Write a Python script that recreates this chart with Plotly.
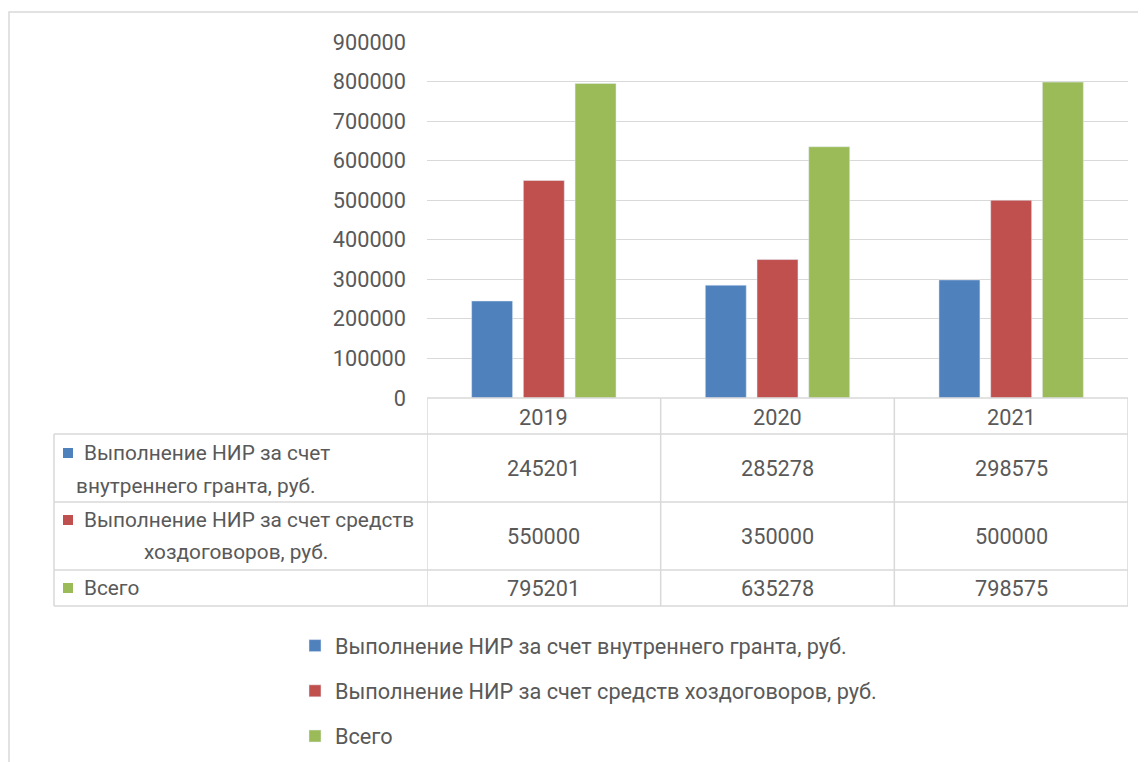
import plotly.graph_objects as go

# ---------------- data ----------------
years = ["2019", "2020", "2021"]
series_names = [
    "Выполнение НИР за счет внутреннего гранта, руб.",
    "Выполнение НИР за счет средств хоздоговоров, руб.",
    "Всего",
]
grant_values = [245201, 285278, 298575]
contract_values = [550000, 350000, 500000]
total_values = [795201, 635278, 798575]
table_label_lines = [
    ["Выполнение НИР за счет", "внутреннего гранта, руб."],
    ["Выполнение НИР за счет средств", "хоздоговоров, руб."],
    ["Всего"],
]
y_ticks = [0, 100000, 200000, 300000, 400000, 500000, 600000, 700000, 800000, 900000]

# ---------------- styling ----------------
OFF = 8  # page body margin
W, H = 1146 - OFF, 762 - OFF
colors = ["#4f81bd", "#c0504d", "#9bbb59"]
FONT = "Roboto"
FS = 21.7
TXT = "#595959"
GRID = "#d9d9d9"


def px(x):
    return (x - OFF) / W


def py(y):
    return 1 - (y - OFF) / H


values = [grant_values, contract_values, total_values]

fig = go.Figure()
for name, vals, c in zip(series_names, values, colors):
    fig.add_trace(go.Bar(x=years, y=vals, name=name, marker_color=c,
                         legendgroup=name))

shapes = []
annotations = []
tfont = dict(family=FONT, size=FS, color=TXT)
lfont = dict(family=FONT, size=20.8, color=TXT)

# outer frame
shapes.append(dict(type="rect", xref="paper", yref="paper",
                   x0=px(9), x1=px(1170), y0=py(12), y1=py(800),
                   line=dict(color=GRID, width=1.5)))

line_style = dict(color=GRID, width=1.5)
# table horizontal lines
shapes.append(dict(type="line", xref="x", yref="paper", x0=-0.5, x1=2.5,
                   y0=py(398), y1=py(398), line=line_style))
for yy in [434, 502, 570, 606]:
    shapes.append(dict(type="line", xref="paper", yref="paper", x0=px(54), x1=px(1128),
                       y0=py(yy), y1=py(yy), line=line_style))
# table vertical lines
shapes.append(dict(type="line", xref="paper", yref="paper", x0=px(54), x1=px(54),
                   y0=py(434), y1=py(606), line=line_style))
for xb in [-0.5, 0.5, 1.5, 2.5]:
    shapes.append(dict(type="line", xref="x", yref="paper", x0=xb, x1=xb,
                       y0=py(398), y1=py(606), line=line_style))

# header years (category index positions on the x axis)
for j, yr in enumerate(years):
    annotations.append(dict(x=j, xref="x", y=py(418), yref="paper", text=yr,
                            xanchor="center", yanchor="middle",
                            showarrow=False, font=tfont))

row_value_y = [468, 536, 588]
row_line_y = [[453, 486], [520, 552], [588]]
row_line2_center = [196, 236]
for i, vals in enumerate(values):
    for j, v in enumerate(vals):
        annotations.append(dict(x=j, xref="x", y=py(row_value_y[i]), yref="paper",
                                text=str(v), xanchor="center", yanchor="middle",
                                showarrow=False, font=tfont))
    # marker square
    yc = row_line_y[i][0]
    shapes.append(dict(type="rect", xref="paper", yref="paper",
                       x0=px(63), x1=px(73), y0=py(yc + 5), y1=py(yc - 5),
                       fillcolor=colors[i], line=dict(width=0)))
    lines = table_label_lines[i]
    annotations.append(dict(x=px(82), xref="paper", y=py(row_line_y[i][0]), yref="paper",
                            text=lines[0], xanchor="left", yanchor="middle",
                            showarrow=False, font=lfont))
    if len(lines) > 1:
        annotations.append(dict(x=px(row_line2_center[i]), xref="paper",
                                y=py(row_line_y[i][1]), yref="paper",
                                text=lines[1], xanchor="center", yanchor="middle",
                                showarrow=False, font=lfont))

fig.update_layout(
    width=W, height=H, autosize=False,
    margin=dict(l=0, r=0, t=0, b=0, autoexpand=False),
    paper_bgcolor="white", plot_bgcolor="white",
    font=tfont,
    barmode="group", bargap=0.336, bargroupgap=0.208,
    xaxis=dict(type="category", range=[-0.5, 2.5], domain=[px(427), px(1128)],
               showticklabels=False, showgrid=False, zeroline=False, showline=False,
               ticks=""),
    yaxis=dict(domain=[py(398), py(42)], range=[0, 900000], tickvals=y_ticks,
               ticktext=[str(t) for t in y_ticks], showgrid=True, gridcolor=GRID,
               gridwidth=1, zeroline=False, showline=False, ticks="",
               ticklabelstandoff=20, tickfont=tfont),
    showlegend=True,
    legend=dict(orientation="v", x=px(295), xanchor="left", y=py(625), yanchor="top",
                tracegroupgap=14, font=tfont,
                bgcolor="rgba(0,0,0,0)", itemwidth=30),
    shapes=shapes,
    annotations=annotations,
)

fig.write_html("out.html")
